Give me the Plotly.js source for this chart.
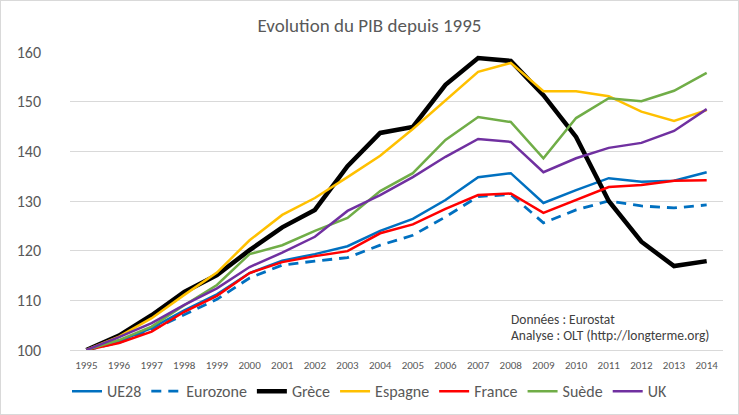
<!DOCTYPE html>
<html><head><meta charset="utf-8">
<script src="https://cdn.plot.ly/plotly-3.0.1.min.js"></script>
<style>
html,body{margin:0;padding:0;background:#fff;}
#chart{width:739px;height:415px;box-sizing:border-box;border:1px solid #d9d9d9;}
</style></head><body>
<div id="chart"></div>
<script>
const years = ['1995','1996','1997','1998','1999','2000','2001','2002','2003','2004','2005','2006','2007','2008','2009','2010','2011','2012','2013','2014'];
const ue28 = [100,101.8,104.4,108.0,111.2,115.5,118.0,119.3,120.9,124.0,126.4,130.2,134.8,135.6,129.6,132.2,134.6,133.9,134.1,135.8];
const eurozone = [100,101.5,104.0,107.1,110.2,114.5,117.1,117.9,118.6,121.1,123.1,126.8,130.9,131.3,125.6,128.2,130.0,129.0,128.6,129.2];
const grece = [100,102.9,107.0,111.7,115.1,120.1,124.7,128.2,137.0,143.7,144.9,153.4,158.8,158.2,151.3,142.9,130.0,121.8,116.9,117.9];
const espagne = [100,102.7,106.4,111.1,115.6,122.1,127.2,130.6,134.8,139.1,144.5,150.3,156.0,157.8,152.1,152.1,151.1,148.0,146.1,148.3];
const france = [100,101.4,103.7,107.7,110.9,115.5,117.7,118.9,119.9,123.5,125.3,128.4,131.2,131.5,127.6,130.2,132.8,133.2,134.1,134.2];
const suede = [100,102.0,104.7,109.0,113.1,119.3,121.1,124.0,126.6,132.0,135.6,142.3,146.9,145.9,138.6,146.7,150.7,150.1,152.2,155.8];
const uk = [100,102.6,105.4,109.1,112.4,116.7,119.6,122.8,128.0,131.2,134.8,138.9,142.5,141.9,135.8,138.6,140.7,141.7,144.1,148.5];

const FONT = "Calibri, Carlito, 'Noto Sans', sans-serif";
function tr(name, y, color, width, dash){
  return {type:'scatter', mode:'lines', name:name, x:years, y:y,
    line:{color:color, width:width, dash:dash||'solid'}, hoverinfo:'skip'};
}
const data = [
  tr('UE28', ue28, '#0070C0', 2.5),
  tr('Eurozone', eurozone, '#0070C0', 2.8, '10px,7px'),
  tr('Grèce', grece, '#000000', 4.5),
  tr('Espagne', espagne, '#FFC000', 2.5),
  tr('France', france, '#FF0000', 2.5),
  tr('Suède', suede, '#70AD47', 2.5),
  tr('UK', uk, '#7030A0', 2.5)
];
const layout = {
  width:737, height:413,
  margin:{l:69, r:15, t:51, b:64},
  paper_bgcolor:'#fff', plot_bgcolor:'#fff',
  font:{family:FONT, color:'#595959'},
  title:{text:'Evolution du PIB depuis 1995', font:{family:FONT, size:19, color:'#595959'}, x:0.5, xanchor:'center', y:0.94, yanchor:'middle'},
  xaxis:{type:'category', range:[-0.5,19.5], showgrid:false, showline:true, linecolor:'#d9d9d9', linewidth:1,
    ticks:'', ticklabelstandoff:5, tickfont:{family:FONT, size:11, color:'#595959'}, fixedrange:true},
  yaxis:{range:[100,160], dtick:10, showgrid:true, gridcolor:'#d9d9d9', gridwidth:1, zeroline:false,
    showline:false, ticks:'', ticklabelstandoff:28, tickfont:{family:FONT, size:16, color:'#595959'}, fixedrange:true},
  showlegend:true,
  legend:{orientation:'h', xref:'container', yref:'container', x:0.5, xanchor:'center', y:0.055, yanchor:'middle',
    font:{family:FONT, size:16, color:'#595959'}, itemwidth:30, tracegroupgap:0},
  annotations:[
    {xref:'paper', yref:'paper', x:0.672, y:0.1007, xanchor:'left', yanchor:'middle', showarrow:false,
     text:'Données : Eurostat', font:{family:FONT, size:13.5, color:'#404040'}},
    {xref:'paper', yref:'paper', x:0.672, y:0.047, xanchor:'left', yanchor:'middle', showarrow:false,
     text:'Analyse : OLT (http://longterme.org)', font:{family:FONT, size:13.5, color:'#404040'}}
  ]
};
Plotly.newPlot('chart', data, layout, {displayModeBar:false, staticPlot:true});
</script>
</body></html>
